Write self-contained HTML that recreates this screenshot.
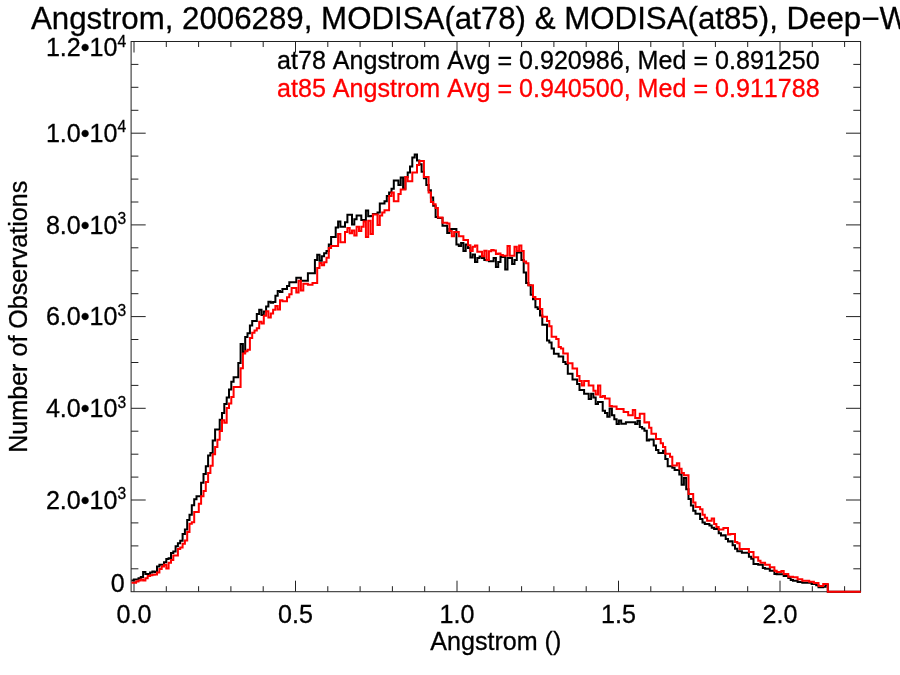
<!DOCTYPE html>
<html><head><meta charset="utf-8"><title>Angstrom histogram</title>
<style>
html,body{margin:0;padding:0;background:#fff;}
body{width:900px;height:675px;overflow:hidden;}
svg{display:block;font-family:"Liberation Sans",sans-serif;will-change:transform;font-kerning:none;font-variant-ligatures:none;}
</style></head>
<body>
<svg width="900" height="675" viewBox="0 0 900 675">
<rect width="900" height="675" fill="#fff"/>
<g fill="#000" stroke="#000" stroke-width="0.3" font-size="25.1">
<text x="31" y="28.8" font-size="31.25">Angstrom, 2006289, MODISA(at78) &amp; MODISA(at85), Deep−Water</text>
<text x="134.0" y="623.3" text-anchor="middle">0.0</text><text x="295.5" y="623.3" text-anchor="middle">0.5</text><text x="457.0" y="623.3" text-anchor="middle">1.0</text><text x="618.5" y="623.3" text-anchor="middle">1.5</text><text x="780.0" y="623.3" text-anchor="middle">2.0</text>
<text x="124.6" y="592.2" text-anchor="end">0</text><text x="126.2" y="508.7" text-anchor="end">2.0•10<tspan dy="-9.5" font-size="15.6">3</tspan></text><text x="126.2" y="417.0" text-anchor="end">4.0•10<tspan dy="-9.5" font-size="15.6">3</tspan></text><text x="126.2" y="325.3" text-anchor="end">6.0•10<tspan dy="-9.5" font-size="15.6">3</tspan></text><text x="126.2" y="233.6" text-anchor="end">8.0•10<tspan dy="-9.5" font-size="15.6">3</tspan></text><text x="126.2" y="141.9" text-anchor="end">1.0•10<tspan dy="-9.5" font-size="15.6">4</tspan></text><text x="126.2" y="56.2" text-anchor="end">1.2•10<tspan dy="-9.5" font-size="15.6">4</tspan></text>
<text x="495.8" y="650.4" text-anchor="middle">Angstrom ()</text>
<text transform="translate(26.9 316.8) rotate(-90)" text-anchor="middle">Number of Observations</text>
<text x="277" y="68.7" font-size="25.1">at78 Angstrom Avg = 0.920986, Med = 0.891250</text>
<text x="277" y="96.6" font-size="25.1" fill="#f00" stroke="#f00">at85 Angstrom Avg = 0.940500, Med = 0.911788</text>
</g>
<rect x="131.1" y="41.5" width="729.5" height="550.2" fill="none" stroke="#222" stroke-width="1"/>
<path d="M134.0 591.7v-11M134.0 41.5v11M166.3 591.7v-5.5M166.3 41.5v5.5M198.6 591.7v-5.5M198.6 41.5v5.5M230.9 591.7v-5.5M230.9 41.5v5.5M263.2 591.7v-5.5M263.2 41.5v5.5M295.5 591.7v-11M295.5 41.5v11M327.8 591.7v-5.5M327.8 41.5v5.5M360.1 591.7v-5.5M360.1 41.5v5.5M392.4 591.7v-5.5M392.4 41.5v5.5M424.7 591.7v-5.5M424.7 41.5v5.5M457.0 591.7v-11M457.0 41.5v11M489.3 591.7v-5.5M489.3 41.5v5.5M521.6 591.7v-5.5M521.6 41.5v5.5M553.9 591.7v-5.5M553.9 41.5v5.5M586.2 591.7v-5.5M586.2 41.5v5.5M618.5 591.7v-11M618.5 41.5v11M650.8 591.7v-5.5M650.8 41.5v5.5M683.1 591.7v-5.5M683.1 41.5v5.5M715.4 591.7v-5.5M715.4 41.5v5.5M747.7 591.7v-5.5M747.7 41.5v5.5M780.0 591.7v-11M780.0 41.5v11M812.3 591.7v-5.5M812.3 41.5v5.5M844.6 591.7v-5.5M844.6 41.5v5.5M131.1 568.8h7.3M860.6 568.8h-7.3M131.1 545.9h7.3M860.6 545.9h-7.3M131.1 522.9h7.3M860.6 522.9h-7.3M131.1 500.0h14.6M860.6 500.0h-14.6M131.1 477.1h7.3M860.6 477.1h-7.3M131.1 454.2h7.3M860.6 454.2h-7.3M131.1 431.2h7.3M860.6 431.2h-7.3M131.1 408.3h14.6M860.6 408.3h-14.6M131.1 385.4h7.3M860.6 385.4h-7.3M131.1 362.5h7.3M860.6 362.5h-7.3M131.1 339.5h7.3M860.6 339.5h-7.3M131.1 316.6h14.6M860.6 316.6h-14.6M131.1 293.7h7.3M860.6 293.7h-7.3M131.1 270.8h7.3M860.6 270.8h-7.3M131.1 247.8h7.3M860.6 247.8h-7.3M131.1 224.9h14.6M860.6 224.9h-14.6M131.1 202.0h7.3M860.6 202.0h-7.3M131.1 179.1h7.3M860.6 179.1h-7.3M131.1 156.1h7.3M860.6 156.1h-7.3M131.1 133.2h14.6M860.6 133.2h-14.6M131.1 110.3h7.3M860.6 110.3h-7.3M131.1 87.3h7.3M860.6 87.3h-7.3M131.1 64.4h7.3M860.6 64.4h-7.3" fill="none" stroke="#222" stroke-width="1"/>
<path d="M131.5 580.6V580.6H133.8V579.4H136.1V579.4H138.5V578.3H140.8V576.9H143.1V571.9H145.4V574.0H147.7V574.0H150.1V572.5H152.4V571.5H154.7V571.9H157.0V566.5H159.4V564.7H161.7V564.7H164.0V562.2H166.3V559.1H168.6V558.2H171.0V552.9H173.3V551.6H175.6V546.2H177.9V543.3H180.2V540.8H182.6V534.1H184.9V529.6H187.2V520.0H189.5V514.8H191.8V505.2H194.2V499.3H196.5V496.3H198.8V496.3H201.1V482.8H203.5V473.9H205.8V466.2H208.1V455.4H210.4V453.1H212.7V440.6H215.1V429.4H217.4V429.4H219.7V419.8H222.0V413.1H224.3V404.0H226.7V397.6H229.0V389.4H231.3V381.7H233.6V377.2H235.9V377.2H238.3V363.1H240.6V343.9H242.9V352.0H245.2V336.9H247.5V333.2H249.9V325.4H252.2V320.9H254.5V320.9H256.8V314.0H259.2V309.8H261.5V315.0H263.8V311.6H266.1V306.6H268.4V301.8H270.8V302.7H273.1V302.0H275.4V295.7H277.7V291.1H280.0V291.9H282.4V288.9H284.7V288.9H287.0V285.9H289.3V282.2H291.6V282.2H294.0V282.2H296.3V277.8H298.6V277.8H300.9V280.7H303.3V280.7H305.6V280.7H307.9V273.3H310.2V273.3H312.5V273.3H314.9V260.0H317.2V254.8H319.5V260.7H321.8V256.3H324.1V253.3H326.5V251.1H328.8V244.4H331.1V237.0H333.4V237.0H335.7V227.4H338.1V221.5H340.4V226.7H342.7V226.7H345.0V222.2H347.4V214.8H349.7V214.8H352.0V224.4H354.3V219.3H356.6V215.6H359.0V215.6H361.3V220.0H363.6V220.0H365.9V210.4H368.2V216.3H370.6V216.1H372.9V213.9H375.2V213.9H377.5V212.4H379.8V203.5H382.2V203.5H384.5V201.3H386.8V196.1H389.1V192.4H391.5V188.7H393.8V180.6H396.1V180.6H398.4V185.0H400.7V177.6H403.1V188.7H405.4V176.9H407.7V172.4H410.0V166.5H412.3V157.6H414.7V154.6H417.0V160.6H419.3V164.3H421.6V171.7H423.9V178.3H426.3V185.0H428.6V190.2H430.9V197.6H433.2V205.7H435.6V216.9H437.9V217.9H440.2V217.9H442.5V225.7H444.8V225.7H447.2V233.1H449.5V228.9H451.8V228.9H454.1V228.9H456.4V244.4H458.8V245.9H461.1V243.0H463.4V251.1H465.7V244.4H468.0V248.1H470.4V257.6H472.7V254.4H475.0V261.9H477.3V257.9H479.6V256.6H482.0V257.9H484.3V260.0H486.6V260.3H488.9V261.3H491.3V261.3H493.6V257.9H495.9V267.0H498.2V261.9H500.5V257.0H502.9V257.0H505.2V269.6H507.5V257.9H509.8V257.9H512.1V264.0H514.5V260.0H516.8V252.6H519.1V252.6H521.4V260.0H523.7V272.6H526.1V283.0H528.4V285.2H530.7V294.8H533.0V299.3H535.4V307.3H537.7V308.9H540.0V315.6H542.3V324.8H544.6V324.8H547.0V340.4H549.3V342.6H551.6V348.5H553.9V353.7H556.2V353.7H558.6V356.4H560.9V356.4H563.2V361.9H565.5V364.1H567.8V373.7H570.2V373.7H572.5V379.6H574.8V379.6H577.1V384.1H579.5V390.0H581.8V390.0H584.1V393.7H586.4V393.7H588.7V398.9H591.1V393.7H593.4V397.4H595.7V404.1H598.0V401.9H600.3V401.9H602.7V410.7H605.0V413.0H607.3V416.7H609.6V408.5H611.9V415.2H614.3V419.3H616.6V424.1H618.9V420.4H621.2V423.8H623.6V423.8H625.9V422.3H628.2V422.3H630.5V422.3H632.8V422.3H635.2V424.1H637.5V420.8H639.8V427.0H642.1V428.5H644.4V430.7H646.8V440.4H649.1V439.6H651.4V439.6H653.7V445.6H656.0V450.0H658.4V453.0H660.7V453.0H663.0V450.7H665.3V458.9H667.7V466.3H670.0V466.3H672.3V467.8H674.6V470.0H676.9V470.0H679.3V474.4H681.6V484.8H683.9V478.1H686.2V489.3H688.5V498.9H690.9V505.6H693.2V510.7H695.5V513.7H697.8V513.7H700.1V518.9H702.5V522.6H704.8V524.1H707.1V524.1H709.4V525.6H711.7V527.8H714.1V529.0H716.4V529.0H718.7V533.3H721.0V535.6H723.4V535.2H725.7V538.9H728.0V541.4H730.3V541.3H732.6V545.3H735.0V548.7H737.3V551.3H739.6V551.3H741.9V552.7H744.2V552.7H746.6V552.7H748.9V556.7H751.2V558.7H753.5V564.0H755.8V564.0H758.2V564.7H760.5V564.7H762.8V568.0H765.1V568.7H767.5V568.7H769.8V570.7H772.1V570.7H774.4V574.0H776.7V574.3H779.1V574.3H781.4V574.3H783.7V576.0H786.0V576.0H788.3V578.0H790.7V580.0H793.0V580.7H795.3V580.7H797.6V582.0H799.9V582.0H802.3V582.7H804.6V582.7H806.9V582.7H809.2V582.7H811.6V584.0H813.9V584.0H816.2V585.3H818.5V587.3H820.8V587.3H823.2V586.7H825.5V584.7H827.8V591.8H860.8" fill="none" stroke="#000" stroke-width="2" stroke-linejoin="miter"/>
<path d="M131.5 582.7V582.7H133.8V582.7H136.1V581.5H138.5V580.5H140.8V579.6H143.1V580.6H145.4V578.3H147.7V576.1H150.1V575.2H152.4V574.8H154.7V574.4H157.0V572.5H159.4V569.0H161.7V566.5H164.0V564.7H166.3V568.6H168.6V562.8H171.0V559.9H173.3V555.6H175.6V555.6H177.9V549.1H180.2V547.5H182.6V543.7H184.9V540.4H187.2V531.9H189.5V523.7H191.8V522.2H194.2V511.9H196.5V511.9H198.8V503.7H201.1V496.3H203.5V491.1H205.8V482.0H208.1V473.1H210.4V465.7H212.7V454.3H215.1V446.9H217.4V439.8H219.7V430.9H222.0V420.3H224.3V422.8H226.7V408.0H229.0V403.5H231.3V396.9H233.6V386.9H235.9V386.9H238.3V386.9H240.6V368.3H242.9V353.5H245.2V351.3H247.5V349.8H249.9V338.0H252.2V332.8H254.5V330.6H256.8V328.3H259.2V321.7H261.5V323.4H263.8V315.7H266.1V311.3H268.4V317.5H270.8V313.5H273.1V309.8H275.4V306.1H277.7V309.5H280.0V300.2H282.4V301.2H284.7V301.2H287.0V297.2H289.3V294.3H291.6V288.1H294.0V288.1H296.3V292.6H298.6V280.7H300.9V290.4H303.3V283.7H305.6V283.7H307.9V284.7H310.2V284.7H312.5V283.0H314.9V283.0H317.2V268.1H319.5V263.0H321.8V265.2H324.1V262.2H326.5V257.8H328.8V248.1H331.1V245.9H333.4V245.9H335.7V245.9H338.1V234.1H340.4V242.2H342.7V242.2H345.0V231.9H347.4V228.1H349.7V233.3H352.0V230.4H354.3V235.6H356.6V226.7H359.0V231.1H361.3V226.7H363.6V221.5H365.9V237.0H368.2V220.7H370.6V233.9H372.9V214.6H375.2V214.6H377.5V225.0H379.8V215.4H382.2V212.4H384.5V210.2H386.8V210.2H389.1V196.1H391.5V192.4H393.8V201.3H396.1V201.3H398.4V193.9H400.7V189.4H403.1V189.4H405.4V176.9H407.7V181.3H410.0V181.3H412.3V172.4H414.7V172.4H417.0V165.0H419.3V161.0H421.6V161.0H423.9V176.9H426.3V176.9H428.6V192.4H430.9V202.0H433.2V204.3H435.6V208.0H437.9V217.6H440.2V217.6H442.5V222.8H444.8V222.8H447.2V223.5H449.5V231.1H451.8V236.3H454.1V231.9H456.4V231.9H458.8V236.3H461.1V236.3H463.4V240.0H465.7V240.0H468.0V245.2H470.4V251.0H472.7V246.7H475.0V245.6H477.3V251.7H479.6V251.7H482.0V256.3H484.3V250.7H486.6V260.0H488.9V251.3H491.3V249.9H493.6V250.4H495.9V253.9H498.2V253.6H500.5V255.0H502.9V255.7H505.2V255.7H507.5V245.9H509.8V255.7H512.1V255.7H514.5V246.7H516.8V251.1H519.1V245.6H521.4V251.1H523.7V261.6H526.1V263.3H528.4V285.2H530.7V285.2H533.0V297.0H535.4V299.0H537.7V299.0H540.0V308.9H542.3V316.7H544.6V316.7H547.0V321.1H549.3V326.3H551.6V336.7H553.9V336.7H556.2V338.9H558.6V347.0H560.9V348.5H563.2V353.4H565.5V353.4H567.8V363.3H570.2V363.3H572.5V368.5H574.8V368.5H577.1V375.9H579.5V381.1H581.8V385.6H584.1V381.1H586.4V381.1H588.7V385.6H591.1V385.6H593.4V390.7H595.7V394.4H598.0V385.6H600.3V397.1H602.7V395.9H605.0V398.6H607.3V398.6H609.6V406.0H611.9V406.6H614.3V406.6H616.6V409.0H618.9V409.0H621.2V409.0H623.6V411.9H625.9V411.9H628.2V415.2H630.5V415.2H632.8V410.0H635.2V417.9H637.5V417.9H639.8V413.7H642.1V413.7H644.4V422.6H646.8V422.3H649.1V427.8H651.4V433.7H653.7V433.7H656.0V438.9H658.4V438.9H660.7V443.3H663.0V447.0H665.3V453.7H667.7V453.7H670.0V456.7H672.3V465.6H674.6V465.6H676.9V463.3H679.3V468.8H681.6V473.0H683.9V475.2H686.2V475.2H688.5V494.0H690.9V494.0H693.2V502.6H695.5V507.0H697.8V507.0H700.1V509.3H702.5V514.7H704.8V517.7H707.1V520.7H709.4V520.7H711.7V518.6H714.1V524.1H716.4V527.0H718.7V529.6H721.0V529.6H723.4V528.1H725.7V528.1H728.0V534.4H730.3V534.0H732.6V534.0H735.0V542.0H737.3V543.3H739.6V548.9H741.9V548.9H744.2V548.9H746.6V548.9H748.9V552.0H751.2V552.0H753.5V557.3H755.8V557.3H758.2V560.7H760.5V562.7H762.8V562.7H765.1V564.7H767.5V564.7H769.8V567.3H772.1V567.3H774.4V570.7H776.7V572.0H779.1V572.0H781.4V571.1H783.7V574.0H786.0V574.0H788.3V576.7H790.7V576.7H793.0V577.3H795.3V577.3H797.6V579.3H799.9V579.3H802.3V580.7H804.6V580.7H806.9V580.7H809.2V581.7H811.6V581.7H813.9V583.1H816.2V583.1H818.5V586.0H820.8V586.0H823.2V584.0H825.5V584.0H827.8V591.8H860.8" fill="none" stroke="#f00" stroke-width="2" stroke-linejoin="miter"/>
</svg>
</body></html>
